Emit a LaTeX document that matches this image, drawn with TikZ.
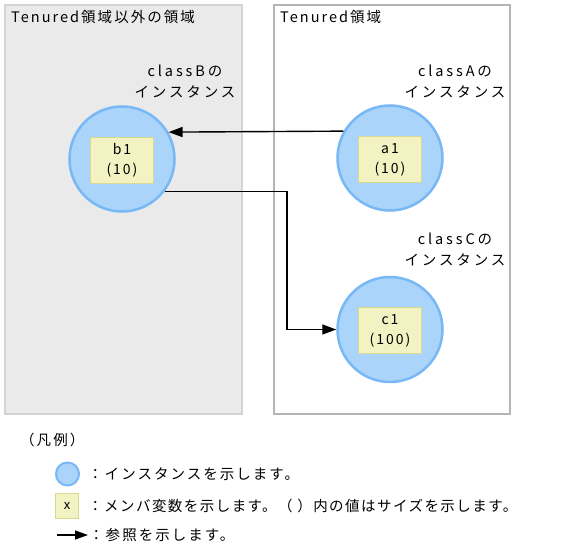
\documentclass[tikz,border=0pt]{standalone}
\usepackage{fontspec}
\setmainfont{Noto Sans CJK JP}[LetterSpace=14]
\usetikzlibrary{arrows.meta}
\definecolor{instline}{RGB}{120,184,245}
\definecolor{instfill}{RGB}{170,212,250}
\definecolor{memline}{RGB}{216,216,144}
\definecolor{memfill}{RGB}{242,242,194}
\definecolor{grayline}{RGB}{212,212,212}
\definecolor{grayfill}{RGB}{234,234,234}
\definecolor{boxline}{RGB}{180,180,180}
\tikzset{
  inst/.style={circle, draw=instline, fill=instfill, line width=2.5pt, minimum size=105pt, inner sep=0pt},
  member/.style={draw=memline, fill=memfill, line width=1.2pt, minimum width=63pt, minimum height=46pt, align=center, inner sep=0pt, font=\fontsize{14}{20}\selectfont},
  lbl/.style={font=\fontsize{14.5}{20.5}\selectfont, inner sep=0pt},
  cls/.style={font=\fontsize{14.5}{20.5}\selectfont\addfontfeature{LetterSpace=20}, inner sep=0pt, anchor=north, align=center},
  ref/.style={line width=1.4pt, -{Triangle[length=14pt,width=10pt]}},
}
\begin{document}
\begin{tikzpicture}[x=1pt,y=-1pt]
\useasboundingbox (0,0) rectangle (576,556);
\fill[white] (0,0) rectangle (576,556);
% regions
\draw[draw=grayline, fill=grayfill, line width=1.5pt] (5,5) rectangle (242,414);
\draw[draw=boxline, fill=white, line width=2.5pt] (274,5) rectangle (510,414);
\node[lbl, anchor=base west] (t1) at (11,23) {Tenured領域以外の領域};
\node[lbl, anchor=base west] (t2) at (280,23) {Tenured領域};
% labels
\node[cls] (lb) at (185,65) {classBの\\インスタンス};
\node[cls] (la) at (455,65) {classAの\\インスタンス};
\node[cls] (lc) at (455,233) {classCの\\インスタンス};
% instances
\node[inst] (b1) at (122,159) {};
\node[inst] (a1) at (390,158) {};
\node[inst] (c1) at (390,329.5) {};
\node[member] (mb) at (122,160.5) {b1\\(10)};
\node[member] (ma) at (390,159.5) {a1\\(10)};
\node[member] (mc) at (390,330.5) {c1\\(100)};
% references
\coordinate (bend) at (287,0);
\draw[ref] (a1.150) -- (b1.30);
\draw[ref] (b1.-37) -| (bend |- c1.west) -- (c1.west);
% legend
\node[lbl, anchor=west] (leg) at (20,440) {（凡例）};
\node[inst, minimum size=23pt, line width=2pt] (lc1) at (67.5,474) {};
\node[lbl, anchor=west] (lt1) at (88,474) {：インスタンスを示します。};
\node[member, minimum width=23pt, minimum height=25pt, font=\fontsize{13}{13}\selectfont] (lm1) at (67,506) {x};
\node[lbl, anchor=west, font=\fontsize{14.5}{20.5}\selectfont\addfontfeature{LetterSpace=10}] (lt2) at (88,506) {：メンバ変数を示します。（ ）内の値はサイズを示します。};
\coordinate (la0) at (57,535);
\coordinate (la1) at (88,535);
\draw[line width=1.4pt, -{Triangle[length=13pt,width=9pt]}] (la0) -- (la1);
\node[lbl, anchor=west] (lt3) at (89,535) {：参照を示します。};
\end{tikzpicture}
\end{document}
